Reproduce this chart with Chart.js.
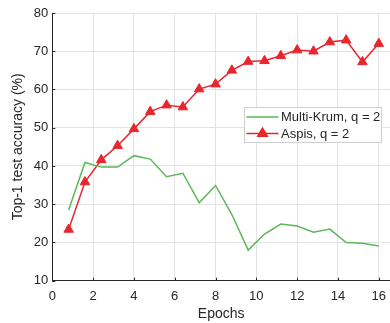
<!DOCTYPE html>
<html>
<head>
<meta charset="utf-8">
<script src="https://cdn.jsdelivr.net/npm/chart.js@4.4.1/dist/chart.umd.min.js"></script>
<style>
  html, body { margin: 0; padding: 0; background: #fff; }
</style>
</head>
<body>
<canvas id="chart" width="390" height="323"></canvas>
<script>
// data
const epochs = [0.8, 1.6, 2.4, 3.2, 4.0, 4.8, 5.6, 6.4, 7.2, 8.0,
                8.8, 9.6, 10.4, 11.2, 12.0, 12.8, 13.6, 14.4, 15.2, 16.0];
const multiKrum = [28.5, 40.9, 39.7, 39.7, 42.7, 41.8, 37.2, 38.1, 30.4, 34.9,
                   27.3, 18.0, 22.2, 24.8, 24.3, 22.7, 23.5, 20.0, 19.8, 19.1];
const aspis = [23.4, 35.8, 41.6, 45.3, 49.7, 54.2, 55.9, 55.4, 60.1, 61.4,
               65.0, 67.3, 67.5, 68.8, 70.3, 70.0, 72.4, 72.9, 67.2, 72.0];
const seriesNames = ['Multi-Krum, q = 2', 'Aspis, q = 2'];

const GREEN = '#5cb85a';
const RED = '#e8262d';
const FONT = "'Liberation Sans', Arial, sans-serif";
const TEXT = '#262626';

const toPoints = (ys) => ys.map((y, i) => ({ x: epochs[i], y: y }));

// MATLAB style inward tick marks
const innerTicks = {
    id: 'innerTicks',
    afterDatasetsDraw(chart) {
        const { ctx, chartArea, scales } = chart;
        ctx.save();
        ctx.strokeStyle = TEXT;
        ctx.lineWidth = 1;
        ctx.beginPath();
        scales.x.ticks.forEach((t) => {
            const px = Math.round(scales.x.getPixelForValue(t.value)) + 0.5;
            ctx.moveTo(px, chartArea.bottom);
            ctx.lineTo(px, chartArea.bottom - 3);
        });
        scales.y.ticks.forEach((t) => {
            const py = Math.round(scales.y.getPixelForValue(t.value)) + 0.5;
            ctx.moveTo(chartArea.left, py);
            ctx.lineTo(chartArea.left + 3, py);
        });
        ctx.stroke();
        ctx.restore();
    }
};

// legend box inside the plot
const boxLegend = {
    id: 'boxLegend',
    afterDraw(chart) {
        const { ctx } = chart;
        const x0 = 244, y0 = 107, w = 138, h = 36;
        ctx.save();
        ctx.fillStyle = '#fff';
        ctx.fillRect(x0, y0, w, h);
        ctx.strokeStyle = '#cfcfcf';
        ctx.lineWidth = 1;
        ctx.strokeRect(x0 + 0.5, y0 + 0.5, w - 1, h - 1);

        const rows = [y0 + 10, y0 + 26.5];
        chart.data.datasets.forEach((ds, i) => {
            const y = rows[i];
            ctx.strokeStyle = ds.borderColor;
            ctx.lineWidth = 1.5;
            ctx.beginPath();
            ctx.moveTo(246.5, y);
            ctx.lineTo(278.5, y);
            ctx.stroke();
            if (ds.pointRadius > 0) {
                ctx.fillStyle = ds.backgroundColor;
                Chart.helpers.drawPoint(ctx, {
                    pointStyle: ds.pointStyle,
                    radius: ds.pointRadius,
                    borderWidth: 1
                }, 262.5, y);
                ctx.fill();
            }
            ctx.fillStyle = TEXT;
            ctx.font = '13px ' + FONT;
            ctx.textBaseline = 'middle';
            ctx.fillText(seriesNames[i], 281, y + 0.5);
        });
        ctx.restore();
    }
};

new Chart(document.getElementById('chart'), {
    type: 'line',
    data: {
        datasets: [
            {
                label: seriesNames[0],
                data: toPoints(multiKrum),
                borderColor: GREEN,
                backgroundColor: GREEN,
                borderWidth: 1.5,
                pointRadius: 0,
                tension: 0
            },
            {
                label: seriesNames[1],
                data: toPoints(aspis),
                borderColor: RED,
                backgroundColor: RED,
                borderWidth: 1.5,
                pointStyle: 'triangle',
                pointRadius: 5.5,
                pointBorderWidth: 1,
                tension: 0
            }
        ]
    },
    options: {
        responsive: false,
        animation: false,
        layout: { autoPadding: false, padding: { top: 13, right: 0, bottom: 0, left: 0 } },
        plugins: {
            legend: { display: false },
            tooltip: { enabled: false }
        },
        scales: {
            x: {
                type: 'linear',
                min: 0,
                max: 16.55,
                afterFit: (scale) => {
                    scale.height = 42.3;
                    scale.paddingLeft = 0;
                    scale.paddingRight = 0;
                },
                grid: { color: '#e3e3e3', drawTicks: false },
                border: { color: TEXT, width: 1 },
                ticks: {
                    stepSize: 2,
                    includeBounds: false,
                    padding: 8,
                    color: TEXT,
                    font: { family: FONT, size: 13 },
                    maxRotation: 0
                },
                title: {
                    display: true,
                    text: 'Epochs',
                    color: TEXT,
                    font: { family: FONT, size: 14 },
                    padding: { top: 0, bottom: 0 }
                }
            },
            y: {
                min: 10,
                max: 80,
                afterFit: (scale) => {
                    scale.width = 52.3;
                    scale.paddingTop = 0;
                    scale.paddingBottom = 0;
                },
                grid: { color: '#e3e3e3', drawTicks: false },
                border: { color: TEXT, width: 1 },
                ticks: {
                    stepSize: 10,
                    padding: 4,
                    color: TEXT,
                    font: { family: FONT, size: 13 }
                },
                title: {
                    display: true,
                    text: 'Top-1 test accuracy (%)',
                    color: TEXT,
                    font: { family: FONT, size: 14 },
                    padding: { top: 10, bottom: 0 }
                }
            }
        }
    },
    plugins: [innerTicks, boxLegend]
});
</script>
</body>
</html>
